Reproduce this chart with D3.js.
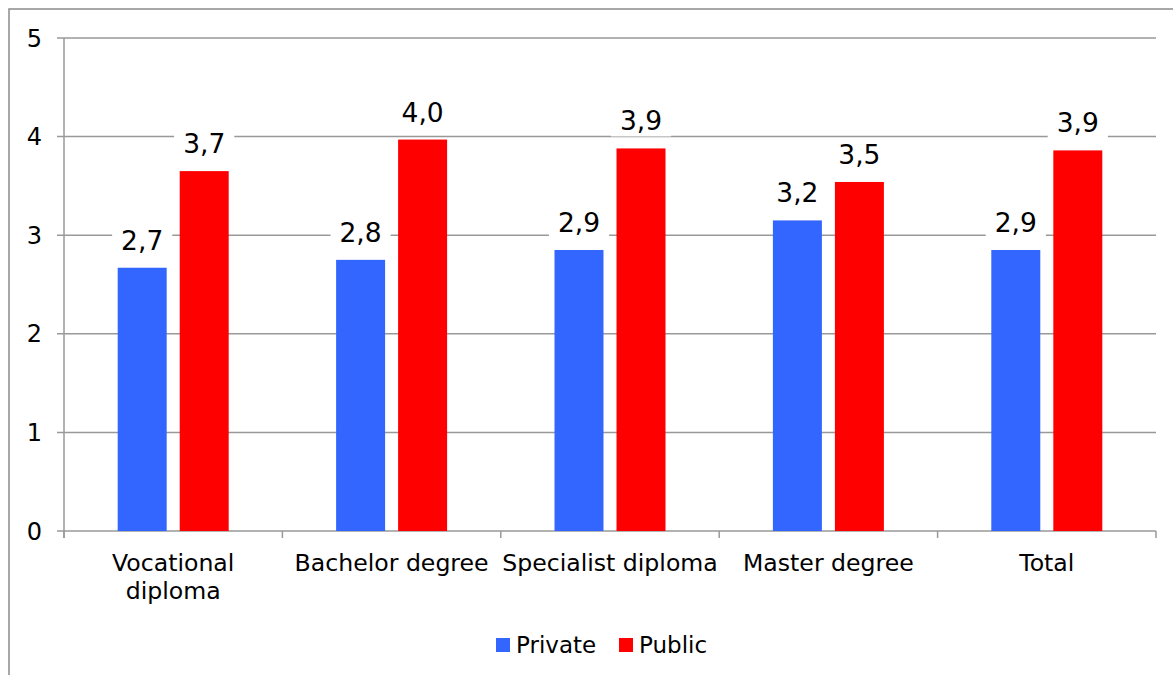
<!DOCTYPE html>
<html>
<head>
<meta charset="utf-8">
<script src="https://cdn.jsdelivr.net/npm/d3@7"></script>
<style>
  html, body { margin: 0; padding: 0; background: #fff; }
  svg { display: block; font-family: "DejaVu Sans", Verdana, sans-serif; }
</style>
</head>
<body>
<svg id="chart" width="1173" height="675"></svg>
<script>
const categories = ["Vocational diploma", "Bachelor degree", "Specialist diploma", "Master degree", "Total"];
const seriesNames = ["Private", "Public"];
const privateValues = [2.67, 2.75, 2.85, 3.15, 2.85];
const publicValues = [3.65, 3.97, 3.88, 3.54, 3.86];
const labelPrivate = ["2,7", "2,8", "2,9", "3,2", "2,9"];
const labelPublic = ["3,7", "4,0", "3,9", "3,5", "3,9"];
const yTicks = [0, 1, 2, 3, 4, 5];
const colors = ["#3366FF", "#FF0000"];

const svg = d3.select("#chart");
const W = 1173, H = 675;
const plot = { left: 64, right: 1156, top: 38, bottom: 531 };
const gridColor = "#999999";

// outer frame
svg.append("rect").attr("x", 9).attr("y", 9).attr("width", W).attr("height", H)
  .attr("fill", "none").attr("stroke", "#8c8c8c").attr("stroke-width", 1.5);

const y = d3.scaleLinear().domain([0, 5]).range([plot.bottom, plot.top]);
const x0 = d3.scaleBand().domain(categories).range([plot.left, plot.right]).padding(0);
const bw = x0.bandwidth();
const x1 = d3.scaleBand().domain(seriesNames).range([bw / 2 - 55.5, bw / 2 + 55.5]).paddingInner(0.21).paddingOuter(0);

// gridlines + y ticks
const g = svg.append("g");
g.selectAll("line.grid").data(yTicks).enter().append("line")
  .attr("x1", plot.left - 7).attr("x2", plot.right)
  .attr("y1", d => y(d)).attr("y2", d => y(d))
  .attr("stroke", gridColor).attr("stroke-width", 1.5);

g.selectAll("text.ytick").data(yTicks).enter().append("text")
  .attr("x", 42).attr("y", d => y(d)).attr("dy", "0.36em")
  .attr("text-anchor", "end").attr("font-size", 24).attr("fill", "#000")
  .text(d => d);

// y axis line
g.append("line").attr("x1", plot.left).attr("x2", plot.left)
  .attr("y1", plot.top).attr("y2", plot.bottom + 7)
  .attr("stroke", gridColor).attr("stroke-width", 1.5);

// x axis ticks at category boundaries
const bounds = categories.map(c => x0(c)).concat([plot.right]);
g.selectAll("line.xtick").data(bounds).enter().append("line")
  .attr("x1", d => d).attr("x2", d => d)
  .attr("y1", plot.bottom).attr("y2", plot.bottom + 7)
  .attr("stroke", gridColor).attr("stroke-width", 1.5);

// bars
const rows = categories.map((c, i) => ({
  cat: c,
  vals: [
    { s: "Private", v: privateValues[i], lab: labelPrivate[i], col: colors[0] },
    { s: "Public", v: publicValues[i], lab: labelPublic[i], col: colors[1] }
  ]
}));

const cg = svg.selectAll("g.cat").data(rows).enter().append("g")
  .attr("transform", d => `translate(${x0(d.cat)},0)`);

cg.selectAll("rect.bar").data(d => d.vals).enter().append("rect")
  .attr("x", d => x1(d.s)).attr("width", x1.bandwidth())
  .attr("y", d => y(d.v)).attr("height", d => y(0) - y(d.v))
  .attr("fill", d => d.col);

// data labels with white background
const lab = cg.selectAll("g.lab").data(d => d.vals).enter().append("g");
lab.append("rect").attr("class", "bg").attr("fill", "#fff");
lab.append("text")
  .attr("x", d => x1(d.s) + x1.bandwidth() / 2)
  .attr("y", d => y(d.v) - 18)
  .attr("text-anchor", "middle").attr("font-size", 26.5).attr("fill", "#000")
  .text(d => d.lab);
lab.each(function () {
  const t = d3.select(this).select("text").node().getBBox();
  d3.select(this).select("rect")
    .attr("x", t.x - 9).attr("y", t.y).attr("width", t.width + 18).attr("height", t.height);
});

// category labels with wrapping
function wrap(textSel, width) {
  textSel.each(function () {
    const text = d3.select(this);
    const words = text.text().split(/\s+/);
    const xx = text.attr("x");
    text.text(null);
    let lines = [];
    let line = [];
    let tspan = text.append("tspan").attr("x", xx);
    words.forEach(w => {
      line.push(w);
      tspan.text(line.join(" "));
      if (tspan.node().getComputedTextLength() > width && line.length > 1) {
        line.pop();
        lines.push(line.join(" "));
        line = [w];
        tspan.text(w);
      }
    });
    lines.push(line.join(" "));
    text.text(null);
    lines.forEach((l, i) => {
      text.append("tspan").attr("x", xx).attr("dy", i === 0 ? 0 : 28).text(l);
    });
  });
}

svg.selectAll("text.xlab").data(categories).enter().append("text")
  .attr("x", d => x0(d) + bw / 2).attr("y", 571)
  .attr("text-anchor", "middle").attr("font-size", 23.6).attr("fill", "#000")
  .text(d => d)
  .call(wrap, bw - 1);

// legend
const legend = svg.append("g");
const legendItems = [
  { name: seriesNames[0], col: colors[0], x: 496 },
  { name: seriesNames[1], col: colors[1], x: 619 }
];
const li = legend.selectAll("g").data(legendItems).enter().append("g");
li.append("rect").attr("x", d => d.x).attr("y", 638).attr("width", 14).attr("height", 14).attr("fill", d => d.col);
li.append("text").attr("x", d => d.x + 20).attr("y", 653)
  .attr("font-size", 23).attr("fill", "#000").text(d => d.name);
</script>
</body>
</html>
